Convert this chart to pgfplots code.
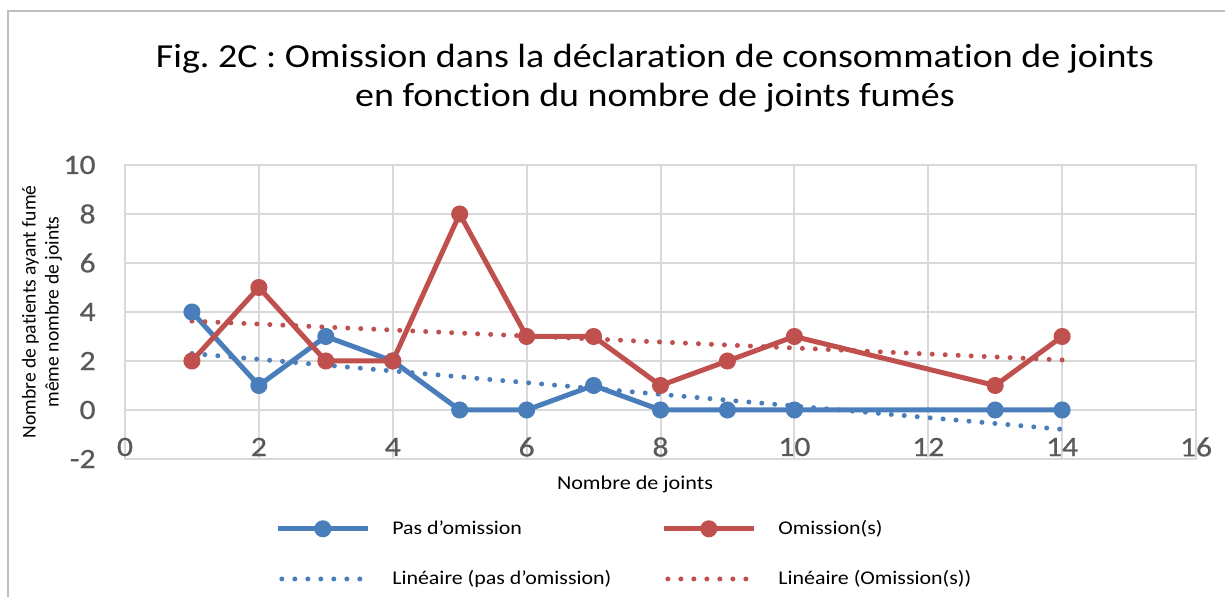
\documentclass[border=0pt]{standalone}
\usepackage{pgfplots}
\pgfplotsset{compat=1.18}
\usepackage{fontspec}
\setmainfont{Carlito}[FakeStretch=1.13, Ligatures=NoCommon]
\newfontfamily\ylabfont{Carlito}[Ligatures=NoCommon]
\newfontfamily\tickfont{Carlito}[FakeStretch=1.13, FakeBold=0.6]
\definecolor{cblue}{HTML}{4A7EBB}
\definecolor{cred}{HTML}{C0504D}
\definecolor{cgrid}{HTML}{D9D9D9}
\definecolor{ctick}{HTML}{595959}
\definecolor{cframe}{HTML}{BFBFBF}
\frenchspacing
\begin{document}
\begin{tikzpicture}[x=1pt,y=1pt]
\draw[cframe, line width=1pt] (4,0) -- (4,293) -- (612.5,293);
\begin{axis}[
  at={(62.5pt,69pt)}, anchor=south west,
  scale only axis, width=535.5pt, height=147pt,
  xmin=0, xmax=16, ymin=-2, ymax=10,
  xtick={0,2,...,16}, ytick={-2,0,...,10},
  grid=major,
  major grid style={cgrid, line width=1pt},
  axis line style={cgrid, line width=1pt},
  major tick length=0pt,
  /pgf/number format/assume math mode=true,
  ticklabel style={font=\tickfont\fontsize{14}{14}\selectfont, text=ctick},
  xticklabel style={anchor=center, yshift=6pt},
  yticklabel style={anchor=east, inner sep=0pt, xshift=-14.5pt},
  ylabel={Nombre de patients ayant fumé\\même nombre de joints},
  ylabel style={font=\ylabfont\fontsize{9.8}{11.5}\selectfont, align=center, at={(axis description cs:-0.0775,0.5)}, anchor=center},
  legend columns=2,
  legend cell align=left,
  legend style={draw=none, fill=none, inner sep=0pt,
    at={(axis description cs:0.140,-0.200)}, anchor=north west,
    font=\fontsize{9.7}{12}\selectfont,
    row sep=14.5pt,
    nodes={inner sep=1pt},
    /tikz/every even column/.append style={column sep=24pt},
    /tikz/every odd column/.append style={column sep=10pt}},
]
\addplot[cblue, line width=2.5pt, mark=*, mark size=3pt,
  legend image code/.code={\draw[mark repeat=2, mark phase=2] plot coordinates {(0pt,0pt) (22.5pt,0pt) (45pt,0pt)};}]
coordinates {(1,4) (2,1) (3,3) (4,2) (5,0) (6,0) (7,1) (8,0) (9,0) (10,0) (13,0) (14,0)};
\addlegendentry{Pas d’omission}
\addplot[cred, line width=2.5pt, mark=*, mark size=3pt,
  legend image code/.code={\draw[mark repeat=2, mark phase=2] plot coordinates {(0pt,0pt) (22.5pt,0pt) (45pt,0pt)};}]
coordinates {(1,2) (2,5) (3,2) (4,2) (5,8) (6,3) (7,3) (8,1) (9,2) (10,3) (13,1) (14,3)};
\addlegendentry{Omission(s)}
\addplot[cblue, line width=2.5pt, line cap=round, dash pattern=on 0pt off 6.5pt,
  legend image code/.code={\draw (2pt,0pt) -- (45pt,0pt);}]
coordinates {(1,2.306) (14,-0.789)};
\addlegendentry{Linéaire (pas d’omission)}
\addplot[cred, line width=2.5pt, line cap=round, dash pattern=on 0pt off 6.5pt,
  legend image code/.code={\draw (2pt,0pt) -- (45pt,0pt);}]
coordinates {(1,3.629) (14,2.042)};
\addlegendentry{Linéaire (Omission(s))}
\end{axis}
\node[font=\fontsize{16.8}{19.5}\selectfont, align=center, anchor=north] at (327.5,280)
  {Fig. 2C : Omission dans la déclaration de consommation de joints\\en fonction du nombre de joints fumés};
\node[font=\fontsize{9.8}{12}\selectfont] at (317.5,56.5) {Nombre de joints};
\pgfresetboundingbox
\path[use as bounding box] (0,0) rectangle (612.5,298.5);
\end{tikzpicture}
\end{document}
